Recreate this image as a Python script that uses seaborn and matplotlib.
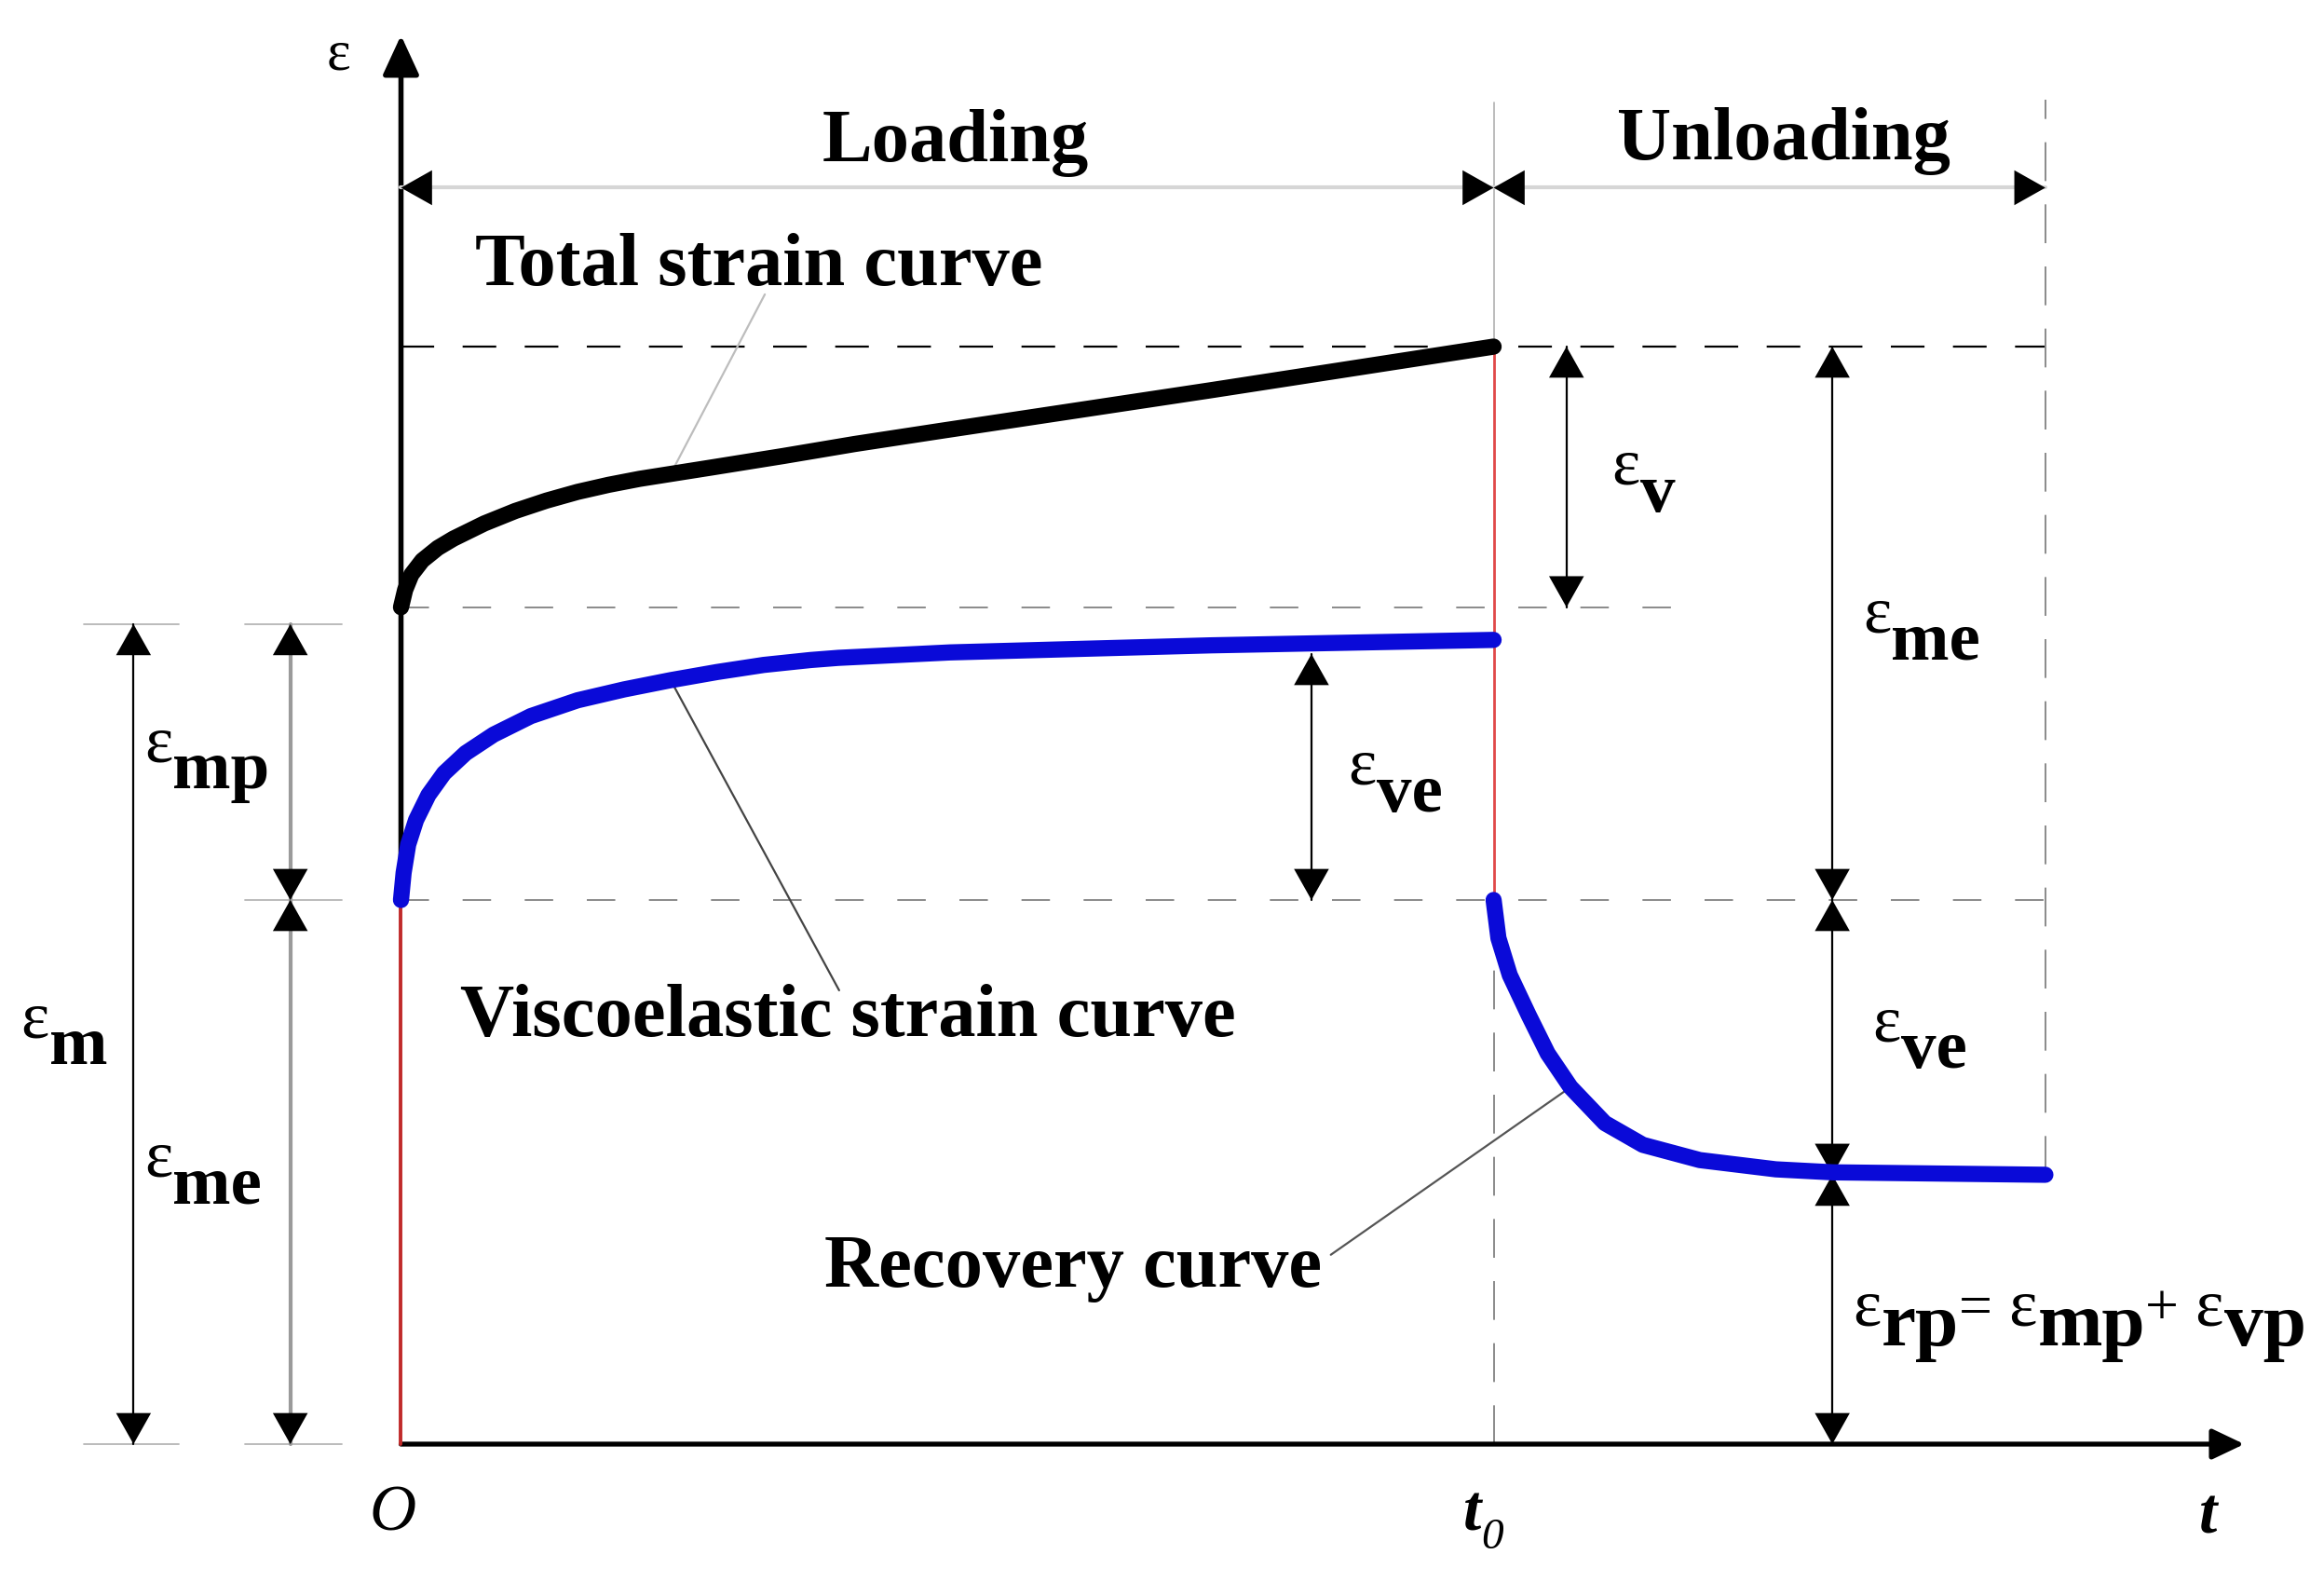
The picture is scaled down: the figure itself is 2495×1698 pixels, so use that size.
import numpy as np
import pandas as pd
import matplotlib
matplotlib.use("Agg")
import matplotlib.pyplot as plt
from matplotlib.patches import FancyArrowPatch
import seaborn as sns

# time in units of t0, strain in units of the instant elastic strain (eps_me)
T_TOTAL = [0.0, 0.0038, 0.0095, 0.0195, 0.0337, 0.0479, 0.0763, 0.1047, 0.1332,
           0.1616, 0.19, 0.2184, 0.2468, 0.2847, 0.35, 0.4152, 0.4935, 0.7418, 1.0]
E_TOTAL = [1.538, 1.570, 1.598, 1.624, 1.647, 1.664, 1.692, 1.715, 1.734,
           1.750, 1.763, 1.774, 1.783, 1.795, 1.816, 1.838, 1.862, 1.937, 2.017]

T_VE = [0.0, 0.0024, 0.0066, 0.0138, 0.0251, 0.0394, 0.0592, 0.0848, 0.1189,
        0.1616, 0.2042, 0.2468, 0.2894, 0.332, 0.3747, 0.4003, 0.5026, 0.7414, 1.0]
E_VE = [1.0, 1.050, 1.102, 1.147, 1.193, 1.233, 1.270, 1.304, 1.338,
        1.367, 1.387, 1.404, 1.419, 1.432, 1.441, 1.445, 1.455, 1.468, 1.478]

T_REC = [1.0, 1.0044, 1.0148, 1.0322, 1.0495, 1.0704, 1.1018, 1.1366, 1.1887,
         1.2583, 1.3106, 1.505]
E_REC = [1.0, 0.930, 0.862, 0.788, 0.718, 0.656, 0.590, 0.550, 0.522,
         0.505, 0.4995, 0.495]

T0 = 1.0          # end of loading
T_END = 1.505     # end of unloading
E_M = 1.507       # eps_m
E_ME = 1.0        # eps_me
E_TOP = E_TOTAL[-1]
E_START = E_TOTAL[0]
E_RP = E_REC[-1]

sns.set_style("white")
plt.rcParams["font.family"] = ["Liberation Serif", "DejaVu Serif"]
plt.rcParams["text.color"] = "black"
plt.rcParams["lines.scale_dashes"] = False

fig = plt.figure(figsize=(24.95, 16.98), dpi=100)
ax = fig.add_axes([0, 0, 1, 1])
ax.set_xlim(-0.367, 1.760)
ax.set_ylim(-0.2534, 2.654)
ax.axis("off")

GRAY = "#8a8a8a"


def head(tip, frm, size=(24, 13.5), color="black"):
    # filled arrow head with its tip at `tip`, pointing away from `frm`
    c = (tip[0] + (frm[0] - tip[0]) * 0.001, tip[1] + (frm[1] - tip[1]) * 0.001)
    ax.add_patch(FancyArrowPatch(c, tip, shrinkA=0, shrinkB=0, lw=0, color=color,
                                 arrowstyle=f"-|>,head_length={size[0]},head_width={size[1]}",
                                 mutation_scale=1, zorder=6))


def dim_arrow(p0, p1, shaft="black", lw=1.5):
    ax.plot([p0[0], p1[0]], [p0[1], p1[1]], color=shaft, lw=lw, zorder=5)
    head(p0, p1)
    head(p1, p0)


def chain(x, y, parts):
    # write several pieces of text one after another (for subscripts)
    r = fig.canvas.get_renderer()
    dx = 0
    for s, dy, size, style in parts:
        weight = "bold" if "b" in style else "normal"
        fstyle = "italic" if "i" in style else "normal"
        txt = ax.annotate(s, (x, y), xytext=(dx, -dy), textcoords="offset points",
                          fontsize=size, fontweight=weight, fontstyle=fstyle,
                          color="black", va="baseline", ha="left")
        dx += txt.get_window_extent(r).width * 72 / fig.dpi


# guide lines
ax.plot([0, T_END], [E_TOP, E_TOP], color="black", lw=1.6, ls=(0, (26, 22)), zorder=2)
ax.plot([0, 1.177], [E_START, E_START], color=GRAY, lw=1.4, ls=(0, (22, 26)), zorder=2)
ax.plot([0, T_END], [E_ME, E_ME], color=GRAY, lw=1.4, ls=(0, (22, 26)), zorder=2)
ax.plot([T0, T0], [0, E_ME], color=GRAY, lw=1.4, ls=(0, (30, 18)), zorder=2)
ax.plot([T0, T0], [E_TOP, 2.466], color="#b0b0b0", lw=1.2, zorder=2)
ax.plot([T_END, T_END], [E_RP, 2.47], color=GRAY, lw=1.4, ls=(0, (30, 18)), zorder=2)

# short extension lines on the left
for x0, x1 in [(-0.2903, -0.2033), (-0.1428, -0.0541)]:
    ax.plot([x0, x1], [E_M, E_M], color="#b5b5b5", lw=1.3, zorder=2)
    ax.plot([x0, x1], [0, 0], color="#b5b5b5", lw=1.3, zorder=2)
ax.plot([-0.1428, -0.0541], [E_ME, E_ME], color="#b5b5b5", lw=1.3, zorder=2)

# axes with arrows
ax.add_patch(FancyArrowPatch((0, E_ME), (0, 2.589), shrinkA=0, shrinkB=0, lw=4, color="black",
                             arrowstyle="-|>,head_length=26,head_width=12", mutation_scale=1, zorder=4))
ax.add_patch(FancyArrowPatch((0, 0), (1.687, 0), shrinkA=0, shrinkB=0, lw=3.8, color="black",
                             arrowstyle="-|>,head_length=21,head_width=10", mutation_scale=1, zorder=4))

# instantaneous jumps
ax.plot([0, 0], [0, E_ME], color="#c02a2a", lw=2.8, zorder=4.5)
ax.plot([T0, T0], [E_ME, E_TOP], color="#e04848", lw=2.0, zorder=4.5)

# curves
sns.lineplot(x=T_TOTAL, y=E_TOTAL, color="black", lw=12.5, sort=False, estimator=None,
             solid_capstyle="round", solid_joinstyle="round", ax=ax, zorder=7)
sns.lineplot(x=T_VE, y=E_VE, color="#0a0ad8", lw=12.5, sort=False, estimator=None,
             solid_capstyle="round", solid_joinstyle="round", ax=ax, zorder=7)
sns.lineplot(x=T_REC, y=E_REC, color="#0a0ad8", lw=12.5, sort=False, estimator=None,
             solid_capstyle="round", solid_joinstyle="round", ax=ax, zorder=7)

# loading / unloading spans
dim_arrow((0, 2.309), (T0, 2.309), shaft="#d6d6d6", lw=3)
dim_arrow((T0, 2.309), (T_END, 2.309), shaft="#d6d6d6", lw=3)

# dimension arrows
dim_arrow((-0.2448, E_M), (-0.2448, 0), lw=1.6)
dim_arrow((-0.1013, E_M), (-0.1013, E_ME), shaft="#9a9a9a", lw=3)
dim_arrow((-0.1013, E_ME), (-0.1013, 0), shaft="#9a9a9a", lw=3)
dim_arrow((1.0667, E_TOP), (1.0667, E_START), lw=1.6)
dim_arrow((0.8333, 1.452), (0.8333, E_ME), lw=1.6)
dim_arrow((1.31, E_TOP), (1.31, E_ME), lw=1.6)
dim_arrow((1.31, E_ME), (1.31, E_RP), lw=1.6)
dim_arrow((1.31, E_RP), (1.31, 0), lw=1.6)

# leader lines
ax.plot([T_TOTAL[12], 0.333], [E_TOTAL[12], 2.113], color="#bdbdbd", lw=1.6, zorder=3)
ax.plot([T_VE[11], 0.401], [E_VE[11], 0.834], color="#444444", lw=1.6, zorder=3)
ax.plot([T_REC[5], 0.851], [E_REC[5], 0.348], color="#555555", lw=1.6, zorder=3)

# captions
cap = dict(fontsize=58, fontweight="bold", va="baseline", color="black")
ax.text(0.5077, 2.357, "Loading", ha="center", **cap)
ax.text(1.2655, 2.361, "Unloading", ha="center", **cap)
ax.text(0.0678, 2.130, "Total strain curve", ha="left", **cap)
ax.text(0.054, 0.75, "Viscoelastic strain curve", ha="left", **cap)
ax.text(0.3874, 0.289, "Recovery curve", ha="left", **cap)

# axis labels
ax.text(-0.0575, 2.527, "ε", fontsize=44, ha="center", va="baseline")
ax.text(-0.0072, -0.158, "O", fontsize=50, fontstyle="italic", ha="center", va="baseline")
chain(0.972, -0.158, [("t", 0, 50, "bi"), ("0", 14, 34, "i")])
ax.text(1.654, -0.163, "t", fontsize=50, fontstyle="italic", fontweight="bold",
        ha="center", va="baseline")

# strain labels
EPS, SUB, DY = 52, 54, 21
for x, y, sub in [(1.108, 1.764, "v"), (1.338, 1.493, "me"), (0.867, 1.213, "ve"),
                  (1.347, 0.741, "ve"), (-0.348, 0.748, "m"), (-0.235, 1.255, "mp"),
                  (-0.235, 0.493, "me")]:
    chain(x, y, [("ε", 0, EPS, ""), (sub, DY, SUB, "b")])

chain(1.329, 0.219, [("ε", 0, 52, ""), ("rp", 16, 60, "b"), ("=", 0, 46, ""),
                     (" ε", 0, 52, ""), ("mp", 16, 60, "b"), ("+", 0, 46, ""),
                     (" ε", 0, 52, ""), ("vp", 16, 60, "b")])

fig.savefig("out.png", dpi=100, facecolor="white")
